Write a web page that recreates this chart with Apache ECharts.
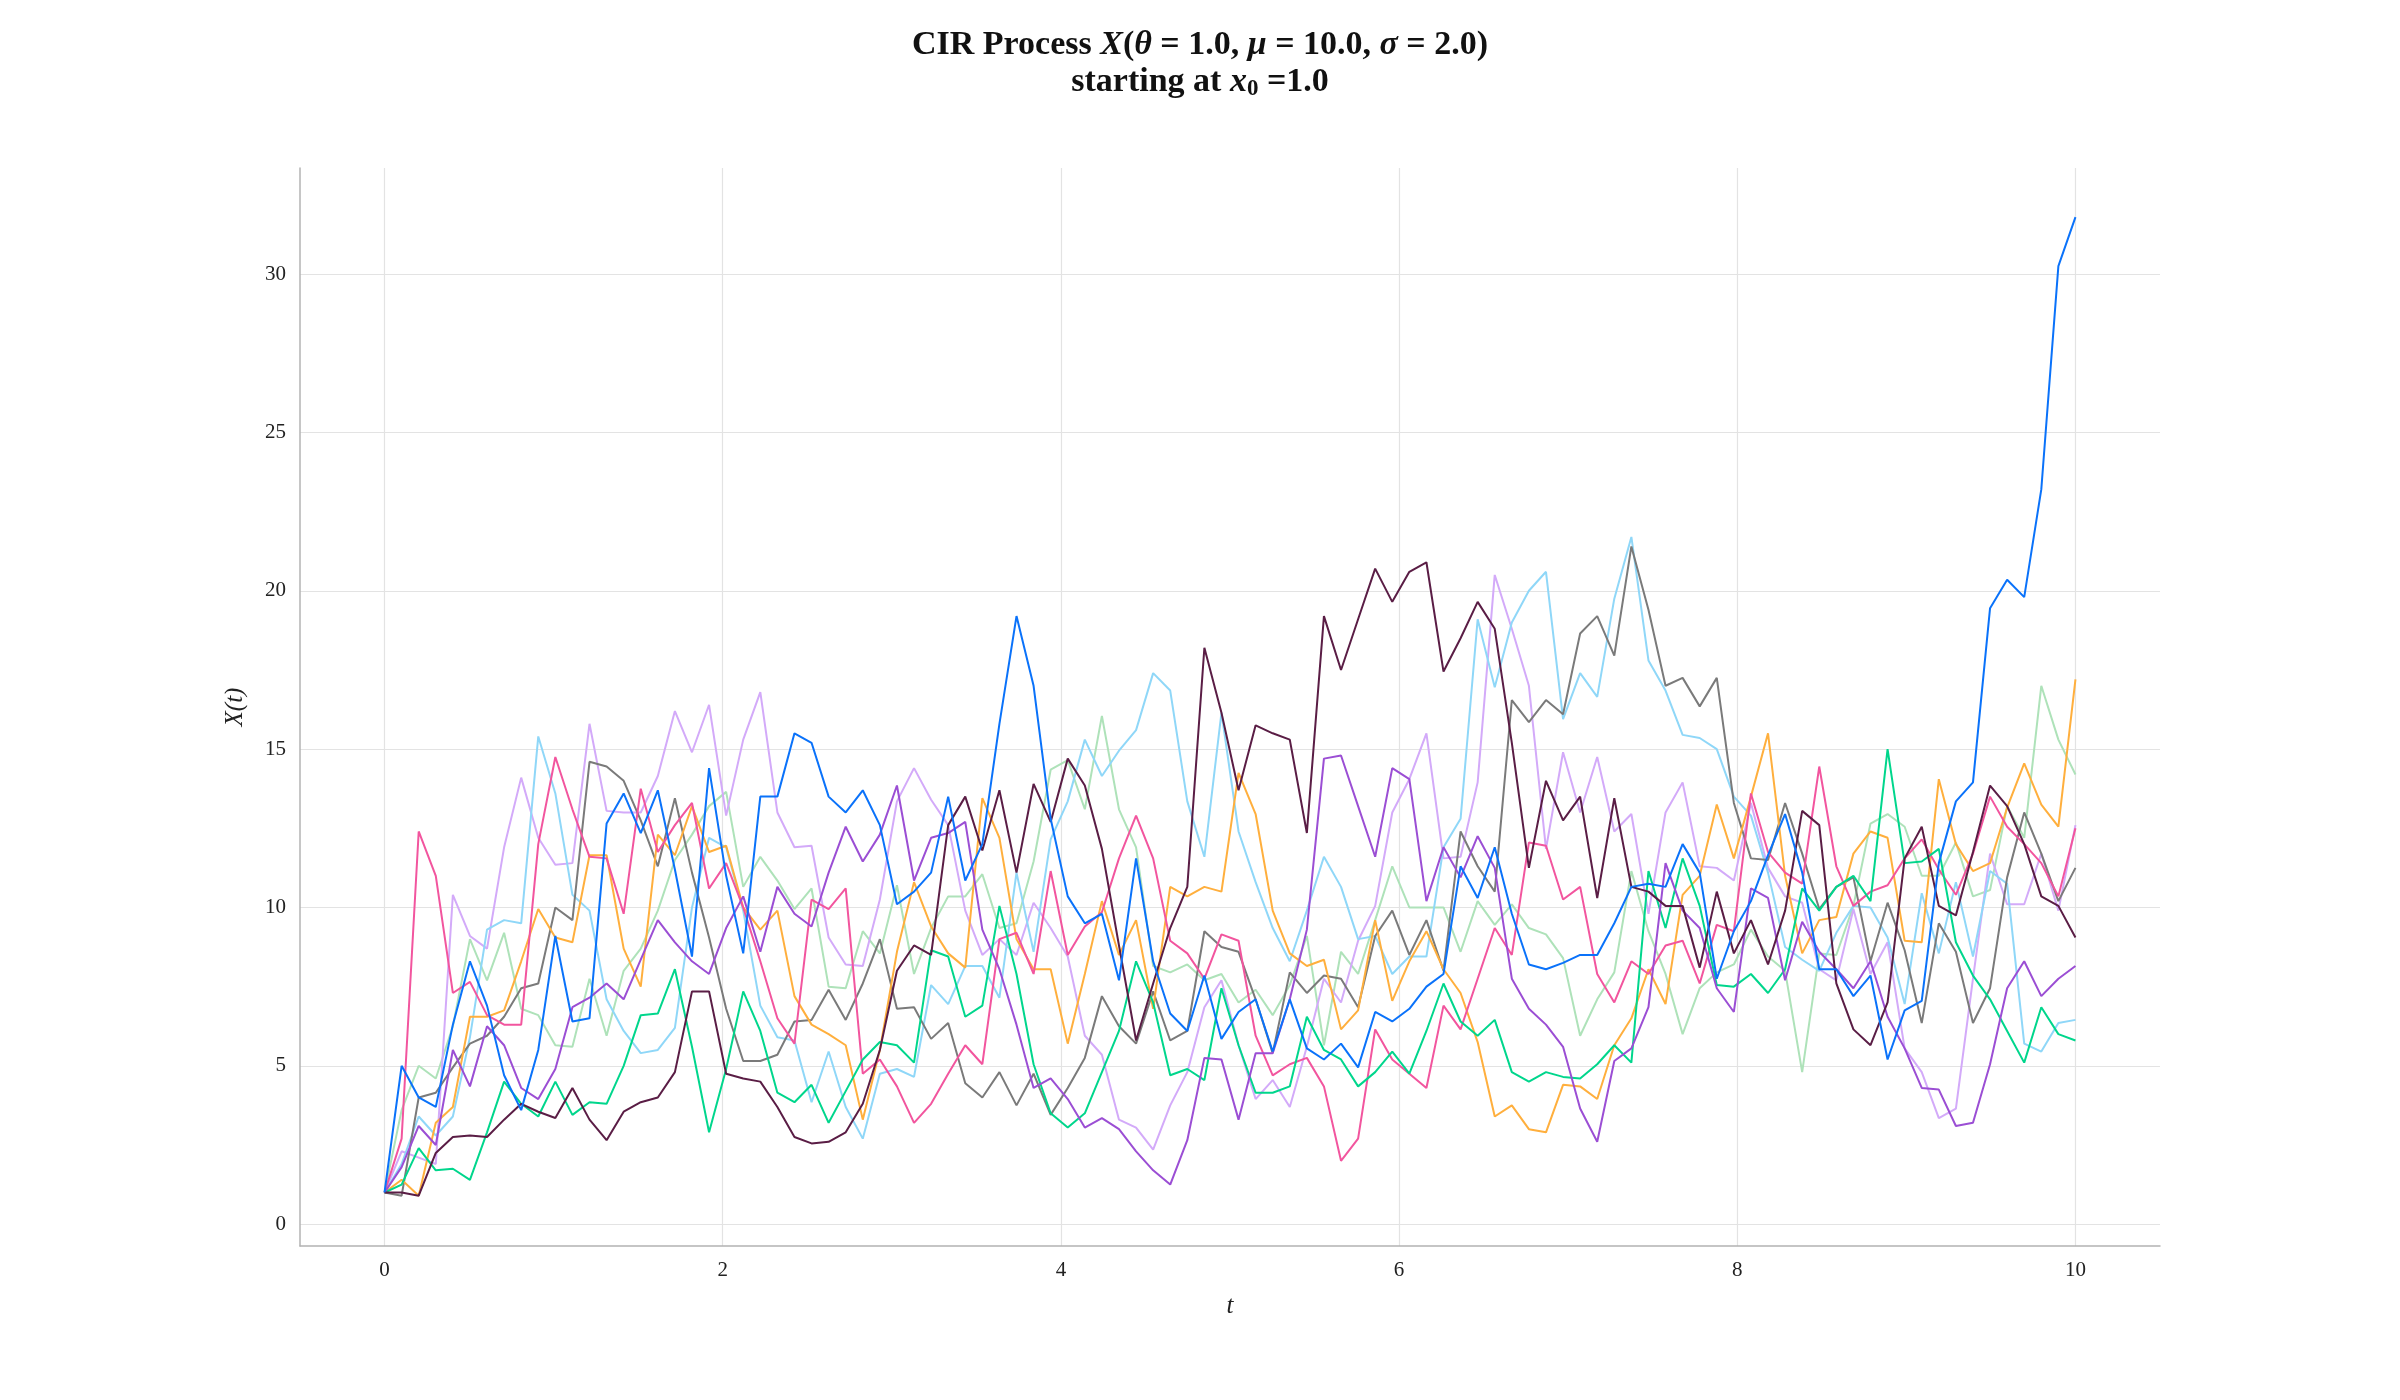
<!DOCTYPE html>
<html><head><meta charset="utf-8">
<script src="https://cdn.jsdelivr.net/npm/echarts@6/dist/echarts.min.js"></script>
<style>html,body{margin:0;padding:0;background:#fff}#chart{width:2400px;height:1400px}</style>
</head><body><div id="chart"></div>
<script>
// time grid: 100 samples from 0 to 10
const N_SAMPLES = 100;
const T_END = 10;
const times = [];
for (let i = 0; i < N_SAMPLES; i++) times.push(i * T_END / (N_SAMPLES - 1));

const xTicks = [0, 2, 4, 6, 8, 10];
const yTicks = [0, 5, 10, 15, 20, 25, 30];

const pathBlue = [1,5.0,4.0,3.7,6.3,8.3,6.9,4.7,3.6,5.5,
9.1,6.4,6.5,12.65,13.6,12.35,13.7,11.2,8.45,14.4,
11.0,8.55,13.5,13.5,15.5,15.2,13.5,13.0,13.7,12.6,
10.1,10.5,11.1,13.5,10.85,12.0,15.8,19.2,17.0,12.8,
10.35,9.5,9.8,7.7,11.55,8.3,6.65,6.1,7.85,5.85,
6.7,7.1,5.45,7.1,5.55,5.2,5.7,4.95,6.7,6.4,
6.8,7.5,7.9,11.3,10.3,11.9,9.8,8.2,8.05,8.25,
8.5,8.5,9.5,10.65,10.75,10.65,12.0,11.1,7.75,9.25,
10.2,11.65,12.95,11.1,8.05,8.05,7.2,7.85,5.2,6.75,
7.05,11.4,13.35,13.95,19.45,20.35,19.8,23.2,30.25,31.8];

const pathLightBlue = [1,1.9,3.4,2.8,3.4,5.9,9.3,9.6,9.5,15.4,
13.6,10.4,9.9,7.1,6.1,5.4,5.5,6.2,10.0,12.2,
11.9,9.9,6.9,5.9,5.8,3.85,5.45,3.7,2.7,4.75,
4.9,4.65,7.55,6.95,8.15,8.15,7.15,11.1,8.6,12.15,
13.35,15.3,14.15,14.95,15.6,17.4,16.85,13.35,11.6,16.15,
12.4,10.8,9.35,8.3,9.9,11.6,10.65,9.0,9.1,7.9,
8.45,8.45,11.9,12.8,19.1,16.95,19.0,20.0,20.6,15.95,
17.4,16.65,19.75,21.7,17.8,16.85,15.45,15.35,15.0,13.5,
12.9,11.1,8.75,8.35,8.0,9.2,10.05,10.0,9.05,6.95,
10.45,8.55,10.8,8.45,11.15,10.75,5.7,5.45,6.35,6.45];

const pathOrange = [1,1.4,0.9,3.2,3.7,6.55,6.55,6.75,8.3,9.95,
9.05,8.9,11.65,11.65,8.7,7.5,12.3,11.65,13.2,11.75,
11.95,10.0,9.3,9.9,7.2,6.3,6.0,5.65,3.3,5.5,
8.6,10.8,9.4,8.55,8.1,13.45,12.2,9.0,8.05,8.05,
5.7,7.9,10.2,8.5,9.6,6.8,10.65,10.35,10.65,10.5,
14.25,12.95,9.9,8.55,8.15,8.35,6.15,6.75,9.6,7.05,
8.3,9.25,8.05,7.3,5.75,3.4,3.75,3.0,2.9,4.4,
4.35,3.95,5.65,6.5,8.05,6.95,10.4,11.0,13.25,11.55,
13.5,15.5,11.0,8.55,9.6,9.7,11.7,12.4,12.2,8.95,
8.9,14.05,12.0,11.15,11.4,13.15,14.55,13.25,12.55,17.2];

const pathPink = [1,2.7,12.4,11.0,7.3,7.65,6.6,6.3,6.3,12.0,
14.75,13.1,11.6,11.55,9.8,13.75,11.75,12.6,13.3,10.6,
11.4,10.0,8.3,6.5,5.7,10.25,9.95,10.6,4.75,5.2,
4.35,3.2,3.8,4.75,5.65,5.05,9.0,9.2,7.9,11.15,
8.5,9.4,9.85,11.55,12.9,11.55,8.95,8.55,7.75,9.15,
8.95,5.95,4.7,5.05,5.25,4.35,2.0,2.7,6.15,5.2,
4.75,4.3,6.9,6.15,7.75,9.35,8.5,12.05,11.95,10.25,
10.65,7.9,7.0,8.3,7.9,8.8,8.95,7.6,9.45,9.25,
13.6,11.75,11.1,10.75,14.45,11.3,10.05,10.5,10.7,11.55,
12.15,11.2,10.4,11.7,13.5,12.55,12.0,11.4,10.35,12.5];

const pathGreen = [1,1.25,2.4,1.7,1.75,1.4,2.9,4.5,3.8,3.4,
4.5,3.45,3.85,3.8,5.0,6.6,6.65,8.05,5.6,2.9,
4.9,7.35,6.1,4.15,3.85,4.4,3.2,4.2,5.2,5.75,
5.65,5.1,8.65,8.45,6.55,6.9,10.05,7.9,5.05,3.5,
3.05,3.5,4.8,6.1,8.3,7.0,4.7,4.9,4.55,7.45,
5.65,4.15,4.15,4.35,6.55,5.5,5.2,4.35,4.8,5.45,
4.75,6.1,7.6,6.4,5.95,6.45,4.8,4.5,4.8,4.65,
4.6,5.05,5.65,5.1,11.15,9.35,11.55,10.05,7.55,7.5,
7.9,7.3,8.05,10.6,9.9,10.65,11.0,10.2,15.0,11.4,
11.45,11.85,8.9,7.85,7.1,6.1,5.1,6.85,6.0,5.8];

const pathLightGreen = [1,3.6,5.0,4.6,6.25,9.0,7.7,9.2,6.8,6.6,
5.65,5.6,7.75,5.95,8.0,8.7,9.9,11.5,12.3,13.2,
13.65,10.65,11.6,10.85,9.95,10.6,7.5,7.45,9.25,8.55,
10.7,7.9,9.35,10.35,10.35,11.05,9.35,9.5,11.45,14.35,
14.65,13.1,16.05,13.1,11.9,8.15,7.95,8.2,7.7,7.9,
7.0,7.4,6.6,7.55,9.1,5.65,8.6,7.9,9.6,11.3,
10.0,10.0,10.0,8.6,10.2,9.45,10.1,9.35,9.15,8.4,
5.95,7.1,7.95,11.15,9.25,7.9,6.0,7.45,7.95,8.2,
9.3,8.45,8.0,4.8,8.55,8.5,10.05,12.65,12.95,12.55,
11.0,11.0,12.05,10.35,10.55,13.2,12.2,17.0,15.3,14.2];

const pathPurple = [1,1.8,3.1,2.5,5.5,4.35,6.25,5.65,4.3,3.95,
4.9,6.85,7.15,7.6,7.1,8.35,9.6,8.9,8.3,7.9,
9.35,10.35,8.6,10.65,9.8,9.4,11.1,12.55,11.45,12.3,
13.85,10.85,12.2,12.35,12.7,9.3,8.05,6.3,4.3,4.6,
3.95,3.05,3.35,3.0,2.3,1.7,1.25,2.65,5.25,5.2,
3.3,5.4,5.4,7.1,9.3,14.7,14.8,13.2,11.6,14.4,
14.05,10.2,11.9,10.95,12.25,11.25,7.75,6.8,6.3,5.6,
3.65,2.6,5.15,5.55,6.85,11.4,9.9,9.35,7.45,6.7,
10.6,10.3,7.7,9.55,8.6,8.05,7.45,8.3,6.55,5.55,
4.3,4.25,3.1,3.2,5.05,7.45,8.3,7.2,7.75,8.15];

const pathLavender = [1,2.3,2.1,1.9,10.4,9.1,8.7,11.9,14.1,12.2,
11.35,11.4,15.8,13.05,13.0,13.0,14.15,16.2,14.9,16.4,
12.9,15.3,16.8,13.0,11.9,11.95,9.05,8.2,8.15,10.25,
13.35,14.4,13.4,12.6,9.9,8.5,9.0,8.5,10.15,9.35,
8.45,5.95,5.35,3.3,3.05,2.35,3.75,4.8,6.85,7.7,
5.65,3.95,4.55,3.7,5.6,7.75,7.0,8.95,10.05,13.0,
14.05,15.5,11.55,11.6,13.95,20.5,18.8,17.0,11.85,14.9,
13.0,14.75,12.4,12.95,9.8,13.0,13.95,11.3,11.25,10.85,
13.3,11.25,10.35,10.15,8.05,7.7,9.95,7.9,8.9,5.55,
4.8,3.35,3.65,7.75,11.7,10.1,10.1,11.7,9.9,12.6];

const pathMaroon = [1,1.0,0.9,2.25,2.75,2.8,2.75,3.3,3.8,3.55,
3.35,4.3,3.3,2.65,3.55,3.85,4.0,4.8,7.35,7.35,
4.75,4.6,4.5,3.7,2.75,2.55,2.6,2.9,3.8,5.5,
8.0,8.8,8.5,12.6,13.5,11.8,13.7,11.1,13.9,12.7,
14.7,13.85,11.85,8.8,5.8,7.6,9.35,10.65,18.2,16.15,
13.7,15.75,15.5,15.3,12.35,19.2,17.5,19.1,20.7,19.65,
20.6,20.9,17.45,18.5,19.65,18.8,15.2,11.25,14.0,12.75,
13.5,10.3,13.45,10.65,10.5,10.05,10.05,8.1,10.5,8.55,
9.6,8.2,9.9,13.05,12.6,7.6,6.15,5.65,7.0,11.55,
12.55,10.05,9.75,11.75,13.85,13.2,12.0,10.35,10.05,9.05];

const pathGray = [1,0.9,4.0,4.15,4.95,5.7,5.95,6.55,7.45,7.6,
10.0,9.6,14.6,14.45,14.0,12.75,11.3,13.45,11.1,9.05,
6.8,5.15,5.15,5.35,6.4,6.45,7.4,6.45,7.6,9.0,
6.8,6.85,5.85,6.35,4.45,4.0,4.8,3.75,4.75,3.45,
4.3,5.25,7.2,6.25,5.7,7.35,5.8,6.1,9.25,8.75,
8.6,7.1,5.4,7.95,7.3,7.85,7.75,6.85,9.1,9.9,
8.5,9.6,8.0,12.4,11.3,10.5,16.55,15.85,16.55,16.1,
18.65,19.2,17.95,21.4,19.4,17.0,17.25,16.35,17.25,13.3,
11.55,11.5,13.3,11.7,9.95,10.65,10.95,8.3,10.15,8.65,
6.35,9.5,8.6,6.35,7.45,10.95,13.0,11.7,10.2,11.25];

const paths = [
  {name: 'path 1', values: pathLightGreen, color: '#AEE2B9'},
  {name: 'path 2', values: pathLavender, color: '#D3AAF9'},
  {name: 'path 3', values: pathLightBlue, color: '#8FD7F8'},
  {name: 'path 4', values: pathGray, color: '#7A7A7A'},
  {name: 'path 5', values: pathOrange, color: '#FFAF3D'},
  {name: 'path 6', values: pathPink, color: '#F2559E'},
  {name: 'path 7', values: pathGreen, color: '#00D68C'},
  {name: 'path 8', values: pathPurple, color: '#9B4ED4'},
  {name: 'path 9', values: pathMaroon, color: '#5A1D45'},
  {name: 'path 10', values: pathBlue, color: '#0A72FA'}
];

const SERIF = '"Liberation Serif", "DejaVu Serif", serif';
const chart = echarts.init(document.getElementById('chart'), null, {renderer: 'canvas'});
chart.setOption({
  animation: false,
  backgroundColor: '#ffffff',
  title: {
    left: 'center',
    top: 22,
    text: '{b|CIR Process }{i|X}{r|(}{i|θ}{r| = 1.0, }{i|μ}{r| = 10.0, }{i|σ}{r| = 2.0)}\n{b|starting at }{i|x}{s|0}{b| =1.0}',
    textStyle: {
      rich: {
        b: {fontFamily: SERIF, fontSize: 34, fontWeight: 'bold', color: '#111', lineHeight: 37},
        i: {fontFamily: SERIF, fontSize: 34, fontStyle: 'italic', color: '#111', lineHeight: 37},
        r: {fontFamily: SERIF, fontSize: 34, color: '#111', lineHeight: 37},
        s: {fontFamily: SERIF, fontSize: 23, color: '#111', verticalAlign: 'bottom', lineHeight: 37}
      }
    }
  },
  grid: {left: 300, right: 240, top: 168, bottom: 154, containLabel: false},
  xAxis: {
    type: 'value', min: -0.5, max: 10.5,
    name: 't', nameLocation: 'middle', nameGap: 48,
    nameTextStyle: {fontFamily: SERIF, fontStyle: 'italic', fontSize: 25, color: '#222'},
    axisLine: {show: true, onZero: false, lineStyle: {color: '#b3b3b3', width: 1.5}},
    axisTick: {show: false, customValues: xTicks},
    axisLabel: {customValues: xTicks, fontFamily: SERIF, fontSize: 21, color: '#222', margin: 14},
    splitLine: {show: true, lineStyle: {color: '#e3e3e3', width: 1.2}}
  },
  yAxis: {
    type: 'value', min: -0.69, max: 33.35,
    name: 'X(t)', nameLocation: 'middle', nameGap: 52,
    nameTextStyle: {fontFamily: SERIF, fontStyle: 'italic', fontSize: 25, color: '#222'},
    axisLine: {show: true, onZero: false, lineStyle: {color: '#b3b3b3', width: 1.5}},
    axisTick: {show: false, customValues: yTicks},
    axisLabel: {customValues: yTicks, fontFamily: SERIF, fontSize: 21, color: '#222', margin: 14},
    splitLine: {show: true, lineStyle: {color: '#e3e3e3', width: 1.2}}
  },
  series: paths.map(p => ({
    name: p.name,
    type: 'line',
    showSymbol: false,
    symbol: 'none',
    clip: false,
    lineStyle: {color: p.color, width: 2},
    itemStyle: {color: p.color},
    data: times.map((t, i) => [t, p.values[i]])
  }))
});
</script></body></html>
